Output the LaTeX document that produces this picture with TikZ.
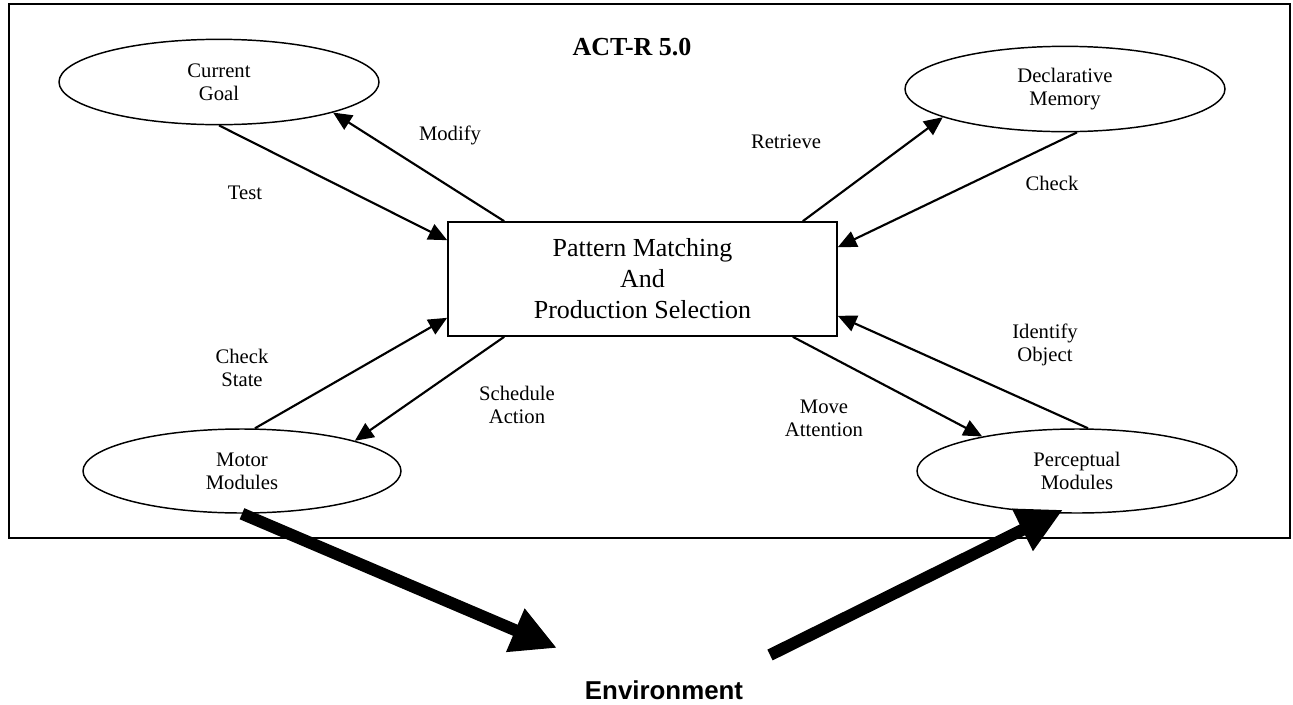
\documentclass[tikz,border=0pt]{standalone}
\usepackage{fontspec}
\setmainfont{Liberation Serif}
\newfontfamily\envfont{Liberation Sans}
\usetikzlibrary{shapes.geometric,arrows.meta}
\begin{document}
\begin{tikzpicture}[x=0.75pt,y=-0.75pt,
  every node/.style={font=\fontsize{15.5}{17.25}\selectfont, align=center, inner sep=0pt},
  mod/.style={ellipse, draw, line width=1.1pt, minimum width=240pt, minimum height=64pt},
  conn/.style={line width=1.6pt, -{Triangle[length=14pt,width=12.5pt]}},
  bigarrow/.style={line width=9pt, -{Triangle[length=34pt,width=33pt]}},
  framebox/.style={draw, line width=1.5pt},
  pmbox/.style={draw, line width=1.2pt, minimum width=291.75pt, minimum height=85.5pt,
    font=\fontsize{19.5}{23.25}\selectfont},
  titletext/.style={font=\fontsize{19.5}{22}\selectfont\bfseries},
  envtext/.style={font=\envfont\fontsize{19.4}{22}\selectfont\bfseries}]
\useasboundingbox (0,0) rectangle (1293,704);
\draw[framebox] (9,4) rectangle (1290,538);

\node[titletext] (title) at (632,47) {ACT-R 5.0};

\node[mod] (goal) at (219,82) {Current\\Goal};
\node[mod] (decl) at (1065,89) {Declarative\\Memory};
\node[mod, minimum width=238.5pt, minimum height=63pt] (motor) at (242,471) {Motor\\Modules};
\node[mod, minimum height=63pt] (perc) at (1077,471) {Perceptual\\Modules};
\node[pmbox] (pm) at (642.5,279) {Pattern Matching\\And\\Production Selection};

% connectors
\draw[conn] (goal.south) -- ([yshift=-14.25pt]pm.north west);
\draw[conn] ([xshift=42.75pt]pm.north west) -- (goal.-15);
\draw[conn] ([xshift=-26.25pt]pm.north east) -- (decl.193);
\draw[conn] ([xshift=9pt]decl.south) -- ([yshift=-19.5pt]pm.north east);
\draw[conn] ([xshift=9.75pt]motor.north) -- ([yshift=14.25pt]pm.south west);
\draw[conn] ([xshift=42.75pt]pm.south west) -- (motor.15);
\draw[conn] ([xshift=8.25pt]perc.north) -- ([yshift=15.75pt]pm.south east);
\draw[conn] ([xshift=-33.75pt]pm.south east) -- (perc.160);

% labels
\node (lTest) at (245,193) {Test};
\node (lModify) at (450,135) {Modify};
\node (lRetrieve) at (786,142) {Retrieve};
\node (lCheck) at (1052,183) {Check};
\node (lCheckState) at (242,368) {Check\\State};
\node (lSchedule) at (517,405) {Schedule\\Action};
\node (lMove) at (824,418) {Move\\Attention};
\node (lIdentify) at (1045,345) {Identify\\Object};

% environment
\node[envtext] (env) at (664,690) {Environment};
\coordinate (envL) at (557,648);
\coordinate (envR) at (770,655);
\draw[bigarrow] (motor.south) -- (envL);
\draw[bigarrow] (envR) -- ([xshift=-10.5pt,yshift=3pt]perc.south);
\end{tikzpicture}
\end{document}
